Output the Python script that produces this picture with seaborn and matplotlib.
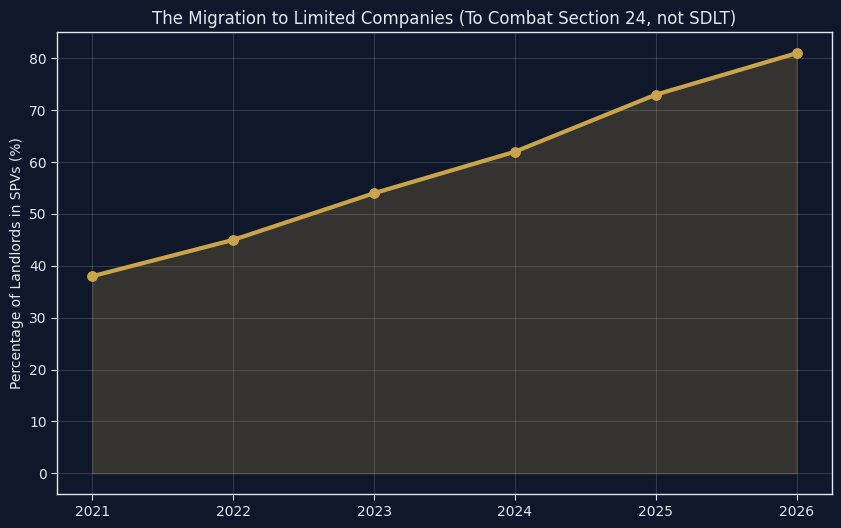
import numpy as np
import pandas as pd
import seaborn as sns
import matplotlib.pyplot as plt

# Data
years = [2021, 2022, 2023, 2024, 2025, 2026]
spv_share = [38, 45, 54, 62, 73, 81]

df = pd.DataFrame({'Year': years, 'Share': spv_share})

bg = '#0f172a'
gold = '#c9a44a'
text_col = '#e2e8f0'

sns.set_style('dark')
plt.rcParams['font.family'] = ['DejaVu Sans']

fig, ax = plt.subplots(figsize=(8.41, 5.28), dpi=100)
fig.patch.set_facecolor(bg)
ax.set_facecolor(bg)

sns.lineplot(data=df, x='Year', y='Share', color=gold, linewidth=3,
             marker='o', markersize=7, markeredgecolor=gold, ax=ax)
ax.fill_between(df['Year'], df['Share'], color=gold, alpha=0.2)

ax.set_title('The Migration to Limited Companies (To Combat Section 24, not SDLT)',
             color=text_col, fontsize=12)
ax.set_ylabel('Percentage of Landlords in SPVs (%)', color=text_col, fontsize=10)
ax.set_xlabel('')
ax.set_xticks(years)
ax.set_xticklabels([str(y) for y in years])
ax.tick_params(colors=text_col, labelsize=10, left=True, bottom=True, length=4)
ax.grid(True, color='white', alpha=0.15, linewidth=0.8)
for s in ax.spines.values():
    s.set_color(text_col)
    s.set_linewidth(1)

fig.subplots_adjust(left=0.068, right=0.989, top=0.939, bottom=0.064)
fig.savefig('out.png', dpi=100, facecolor=bg)
